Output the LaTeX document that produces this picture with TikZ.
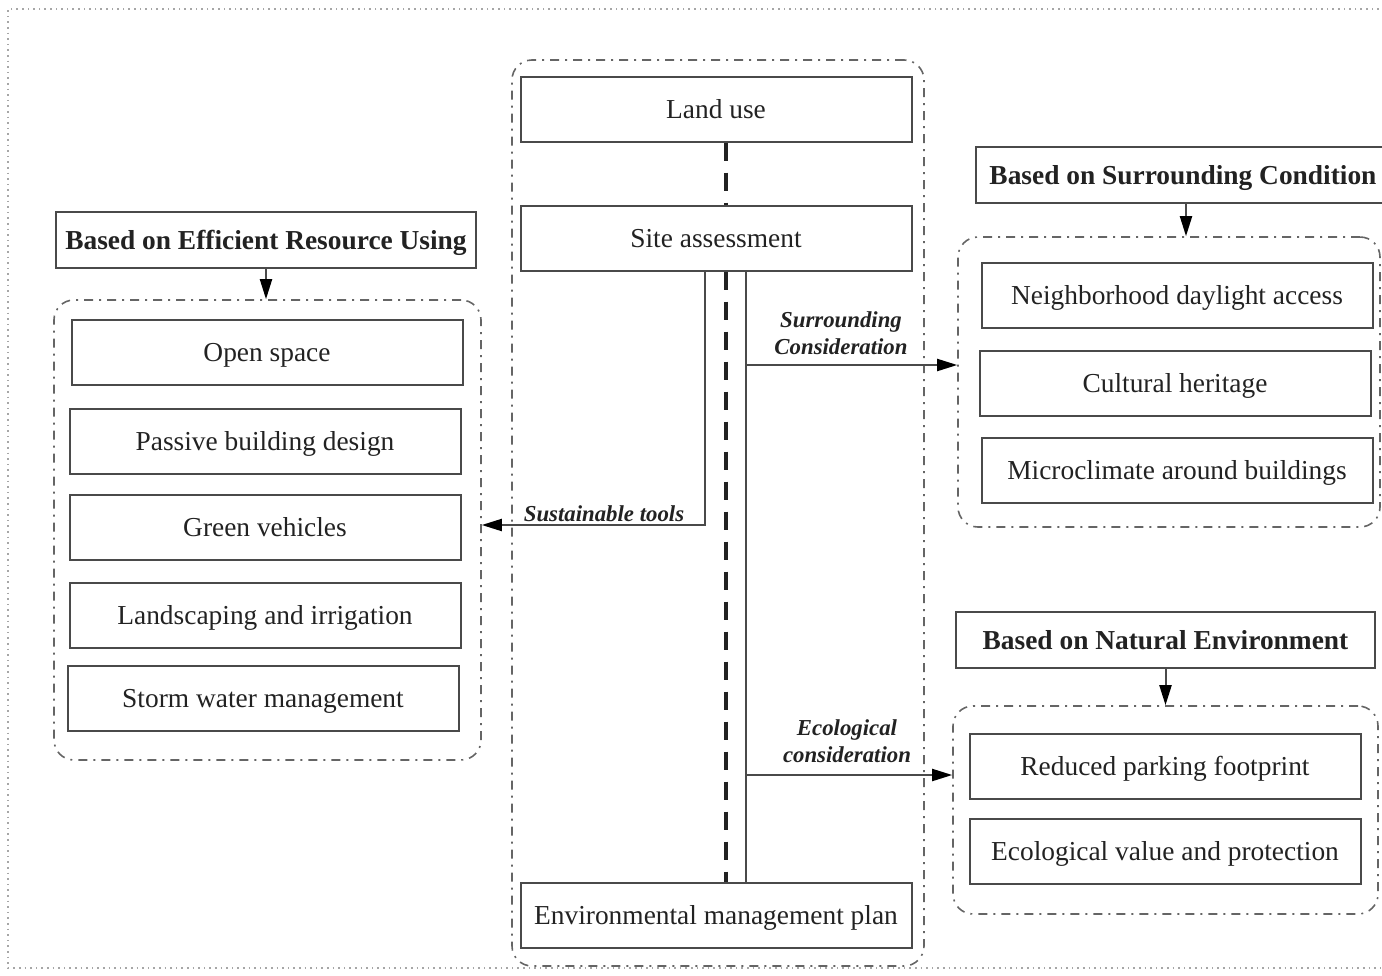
\documentclass[tikz,border=0pt]{standalone}
\usepackage{fontspec}
\setmainfont{Liberation Serif}
\usepackage{tikz}
\usetikzlibrary{arrows.meta}
\definecolor{linegray}{HTML}{4A4A4A}
\definecolor{txtgray}{HTML}{222222}
\tikzset{>={Triangle[length=10pt,width=6pt,color=black]},
         item/.style={draw=linegray, line width=1pt, minimum width=195.5pt,
           minimum height=32.5pt, text depth=0pt, text=txtgray, font=\fontsize{13.7}{16}\selectfont},
         head/.style={item, minimum height=28pt, font=\fontsize{13.7}{16}\selectfont\bfseries},
         group/.style={draw=linegray!85, line width=0.8pt, rounded corners=10pt,
           dash pattern=on 4.5pt off 3pt on 1pt off 3pt},
         tag/.style={text=txtgray, align=center, font=\fontsize{11.4}{13.5}\selectfont\bfseries\itshape},
         spine/.style={draw=txtgray, line width=2pt, dash pattern=on 9pt off 6pt},
         link/.style={draw=linegray, line width=1pt}}

\begin{document}
\begin{tikzpicture}[x=0.5pt,y=-0.5pt]
\useasboundingbox (0,0) rectangle (1382,975);
\draw[gray!70, line width=0.8pt, dotted] (1390,9) -- (8,9) -- (8,968) -- (1390,968);
% groups
\node[group, minimum width=206pt, minimum height=453pt] (gC) at (718,513) {};
\node[group, minimum width=213.5pt, minimum height=230pt] (gL) at (267.5,530) {};
\node[group, minimum width=211pt, minimum height=145pt] (gR1) at (1169,382) {};
\node[group, minimum width=212.5pt, minimum height=104pt] (gR2) at (1165.5,810) {};
% centre column
\node[item] (lu) at (716,109) {Land use};
\node[item] (sa) at (716,238) {Site assessment};
\node[item] (emp) at (716,915) {Environmental management plan};
% left column
\node[head, minimum width=210pt] (hL) at (266,240) {Based on Efficient Resource Using};
\node[item] (os) at (267,352) {Open space};
\node[item] (pb) at (265,441) {Passive building design};
\node[item] (gv) at (265,527) {Green vehicles};
\node[item] (li) at (265,615) {Landscaping and irrigation};
\node[item] (sw) at (263,698) {Storm water management};
% right column
\node[head, minimum width=207pt] (hR1) at (1183,175) {Based on Surrounding Condition};
\node[item] (nd) at (1177,295) {Neighborhood daylight access};
\node[item] (ch) at (1175,383) {Cultural heritage};
\node[item] (mc) at (1177,470) {Microclimate around buildings};
\node[head, minimum width=209.5pt] (hR2) at (1165.5,640) {Based on Natural Environment};
\node[item] (rp) at (1165,766) {Reduced parking footprint};
\node[item] (ev) at (1165,851) {Ecological value and protection};
% connectors
\coordinate (sp) at (726,0);
\coordinate (tl) at (705,525);
\coordinate (rl) at (746,0);
\coordinate (b1) at (746,365);
\coordinate (b2) at (746,775);
\draw[spine] (lu.south -| sp) -- (sa.north -| sp);
\draw[spine] (sa.south -| sp) -- (emp.north -| sp);
\draw[link,->] (sa.south -| tl) -- (tl) -- (tl -| gL.east);
\draw[link] (sa.south -| rl) -- (emp.north -| rl);
\draw[link,->] (b1) -- (b1 -| gR1.west);
\draw[link,->] (b2) -- (b2 -| gR2.west);
\draw[link,->] (hL.south) -- (hL.south |- gL.north);
\draw[link,->] (hR1.south -| 1186,0) -- (gR1.north -| 1186,0);
\draw[link,->] (hR2.south) -- (hR2.south |- gR2.north);
% labels
\node[tag] (tsus) at (604,514) {Sustainable tools};
\node[tag] (tsur) at (841,333) {Surrounding\\Consideration};
\node[tag] (teco) at (847,741) {Ecological\\consideration};
\end{tikzpicture}
\end{document}
